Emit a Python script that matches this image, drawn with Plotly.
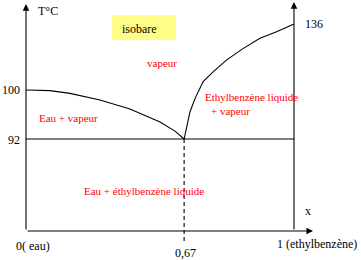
import plotly.graph_objects as go

# Schematic isobaric phase diagram water / ethylbenzene (drawn coordinates: x = composition axis, y = schematic temperature axis)
dew_left_x = [0, 0.090, 0.164, 0.276, 0.388, 0.500, 0.556, 0.590]
dew_left_y = [0.624, 0.621, 0.609, 0.580, 0.540, 0.482, 0.442, 0.407]
dew_right_x = [0.590, 0.600, 0.612, 0.631, 0.661, 0.699, 0.749, 0.811, 0.873, 0.935, 1.0]
dew_right_y = [0.407, 0.469, 0.528, 0.587, 0.661, 0.705, 0.757, 0.808, 0.853, 0.882, 0.916]
T_levels = [0.624, 0.407, 0.916]
T_labels = ["100", "92", "136"]
x_eut = 0.590
x_labels = ["0( eau)", "0,67", "1 (ethylbenzène)"]

FONT = "'Liberation Serif', 'Times New Roman', serif"
fig = go.Figure()
line = dict(color="black", width=1.1)
fig.add_trace(go.Scatter(x=dew_left_x, y=dew_left_y, mode="lines", line=line, hoverinfo="skip"))
fig.add_trace(go.Scatter(x=dew_right_x, y=dew_right_y, mode="lines", line=line, hoverinfo="skip"))
# eutectic horizontal
fig.add_trace(go.Scatter(x=[0, 1], y=[T_levels[1], T_levels[1]], mode="lines", line=line, hoverinfo="skip"))
# dashed vertical
fig.add_trace(go.Scatter(x=[x_eut, x_eut], y=[T_levels[1], -0.044], mode="lines",
                         line=dict(color="black", width=1.1, dash="4px,3px"), hoverinfo="skip"))

anns = []
def arrow(x, y, ax, ay):
    anns.append(dict(x=x, y=y, ax=ax, ay=ay, xref="x", yref="y", axref="x", ayref="y",
                     text="", showarrow=True, arrowhead=2, arrowsize=1.2, arrowwidth=1.1,
                     arrowcolor="black"))
arrow(0, 1.004, 0, 0)
arrow(1, 1.013, 1, 0)
arrow(1.071, 0, 0, 0)

def txt(x, y, s, color="black", size=12, xanchor="center"):
    anns.append(dict(x=x, y=y, xref="x", yref="y", text=s, showarrow=False,
                     font=dict(family=FONT, size=size, color=color),
                     xanchor=xanchor, yanchor="middle"))

txt(0.082, 0.973, "T°C")
txt(0.424, 0.894, "isobare")
txt(0.507, 0.743, "vapeur", "red", 11)
txt(-0.015, T_levels[0], T_labels[0], xanchor="right")
txt(-0.015, T_levels[1] - 0.004, T_labels[1], xanchor="right")
txt(1.034, T_levels[2], T_labels[2], xanchor="left")
txt(0.160, 0.500, "Eau + vapeur", "red", 11)
txt(0.843, 0.593, "Ethylbenzène liquide", "red", 11)
txt(0.683, 0.531, "+ vapeur", "red", 11, xanchor="left")
txt(0.442, 0.177, "Eau + éthylbenzène liquide", "red", 11)
txt(1.052, 0.088, "x")
txt(0.026, -0.066, x_labels[0])
txt(0.597, -0.097, x_labels[1])
txt(1.084, -0.058, x_labels[2])

fig.add_shape(type="rect", x0=0.321, x1=0.560, y0=0.845, y1=0.956, xref="x", yref="y",
              fillcolor="#ffff88", line=dict(width=0), layer="below")

fig.update_layout(
    width=361, height=260, margin=dict(l=0, r=0, t=0, b=0),
    paper_bgcolor="white", plot_bgcolor="white", showlegend=False,
    font=dict(family=FONT),
    xaxis=dict(range=[-0.097, 1.250], visible=False, fixedrange=True),
    yaxis=dict(range=[-0.128, 1.022], visible=False, fixedrange=True),
    annotations=anns,
)
fig.write_html("out.html")
